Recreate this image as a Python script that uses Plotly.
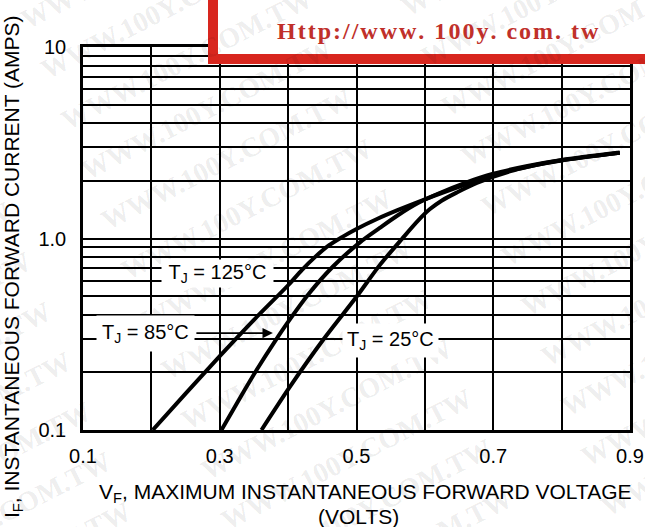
import math
import plotly.graph_objects as go

# ---- data ----
v_125 = [0.202, 0.250, 0.300, 0.350, 0.400, 0.420, 0.440, 0.460, 0.480, 0.500, 0.530, 0.560, 0.600, 0.660, 0.700, 0.750, 0.800, 0.885]
i_125 = [0.100, 0.155, 0.243, 0.376, 0.570, 0.684, 0.804, 0.923, 1.023, 1.122, 1.265, 1.406, 1.603, 1.920, 2.150, 2.370, 2.560, 2.800]

v_85 = [0.3025, 0.330, 0.355, 0.380, 0.400, 0.430, 0.466, 0.505, 0.534, 0.560, 0.590, 0.620, 0.660, 0.700, 0.750, 0.800, 0.885]
i_85 = [0.100, 0.148, 0.209, 0.288, 0.367, 0.513, 0.716, 0.955, 1.135, 1.318, 1.531, 1.718, 1.960, 2.180, 2.390, 2.570, 2.810]

v_25 = [0.361, 0.4025, 0.451, 0.500, 0.534, 0.567, 0.590, 0.607, 0.625, 0.647, 0.676, 0.730, 0.800, 0.885]
i_25 = [0.100, 0.168, 0.295, 0.496, 0.726, 1.000, 1.240, 1.420, 1.580, 1.740, 1.950, 2.270, 2.550, 2.800]

x_grid = [0.1, 0.2, 0.3, 0.4, 0.5, 0.6, 0.7, 0.8, 0.9]
x_labels = ["0.1", "", "0.3", "", "0.5", "", "0.7", "", "0.9"]
y_grid = [0.1, 0.2, 0.3, 0.4, 0.5, 0.6, 0.7, 0.8, 0.9, 1, 2, 3, 4, 5, 6, 7, 8, 9, 10]
y_labels = ["0.1", "", "", "", "", "", "", "", "", "1.0", "", "", "", "", "", "", "", "", "10"]

curve_labels = ["T<sub>J</sub> = 125°C", "T<sub>J</sub> = 85°C", "T<sub>J</sub> = 25°C"]
x_title = "V<sub>F</sub>, MAXIMUM INSTANTANEOUS FORWARD VOLTAGE"
x_title2 = "(VOLTS)"
y_title = "I<sub>F</sub>, INSTANTANEOUS FORWARD CURRENT (AMPS)"
banner_text = "Http://www. 100y. com. tw"
watermark_text = "WWW.100Y.COM.TW"

# ---- layout geometry (pixels) ----
W, H = 645, 527
L, R, T, B = 83, 15, 47, 97
PW, PH = W - L - R, H - T - B


def px(x):
    return (x - L) / PW


def py(y):
    return (H - B - y) / PH


FONT = "Liberation Sans, Arial, Helvetica, sans-serif"
FS = 20

fig = go.Figure()
for v, i in [(v_125, i_125), (v_85, i_85), (v_25, i_25)]:
    fig.add_trace(go.Scatter(x=v, y=i, mode="lines",
                             line=dict(color="black", width=4, shape="spline", smoothing=0.8),
                             hoverinfo="skip", showlegend=False))

annotations = []

# watermark tiling
ang = math.radians(27)
ux, uy = math.cos(ang), -math.sin(ang)
ox, oy = 186, 59
for i in range(-4, 5):
    for j in range(-14, 16):
        cx = ox + i * 360 * ux + j * 20
        cy = oy + i * 360 * uy + j * 50
        if -150 <= cx <= 795 and -70 <= cy <= 600:
            annotations.append(dict(xref="paper", yref="paper", x=px(cx), y=py(cy),
                                    text="<b>" + watermark_text + "</b>", showarrow=False, textangle=-27,
                                    font=dict(family="Liberation Serif, serif", size=28,
                                              color="rgba(0,0,0,0.085)"),
                                    xanchor="center", yanchor="middle"))

# curve labels
annotations.append(dict(x=0.296, y=-0.181, text="&nbsp;" + curve_labels[0] + "&nbsp;",
                        showarrow=False, bgcolor="white", borderpad=1,
                        font=dict(family=FONT, size=FS, color="black")))
annotations.append(dict(x=0.192, y=-0.494, text=curve_labels[1], showarrow=False,
                        bgcolor="white", borderpad=5,
                        font=dict(family=FONT, size=FS, color="black")))
annotations.append(dict(x=0.3777, y=-0.494, ax=-78, ay=0, text="", showarrow=True,
                        arrowhead=2, arrowsize=1.3, arrowwidth=1.6, arrowcolor="black"))
annotations.append(dict(x=0.5504, y=-0.5305, text=curve_labels[2], showarrow=False,
                        bgcolor="white", borderpad=4,
                        font=dict(family=FONT, size=FS, color="black")))

# axis titles
annotations.append(dict(xref="paper", yref="paper", x=px(365), y=py(493),
                        text=x_title, showarrow=False,
                        font=dict(family=FONT, size=21, color="black"),
                        xanchor="center", yanchor="middle"))
annotations.append(dict(xref="paper", yref="paper", x=px(358), y=py(516),
                        text=x_title2, showarrow=False,
                        font=dict(family=FONT, size=21, color="black"),
                        xanchor="center", yanchor="middle"))
annotations.append(dict(xref="paper", yref="paper", x=px(13), y=py(267),
                        text=y_title, showarrow=False, textangle=-90,
                        font=dict(family=FONT, size=21, color="black"),
                        xanchor="center", yanchor="middle"))

# banner text
spaced = "&#8202;".join(banner_text)
annotations.append(dict(xref="paper", yref="paper", x=px(438), y=py(31),
                        text="<b>" + spaced + "</b>", showarrow=False,
                        font=dict(family="Liberation Serif, serif", size=24, color="#c0302a"),
                        xanchor="center", yanchor="middle"))

shapes = [dict(type="rect", xref="paper", yref="paper",
               x0=px(213), x1=px(660), y0=py(59), y1=py(-20),
               line=dict(color="#d8261e", width=10), fillcolor="white", layer="above")]

fig.update_layout(
    width=W, height=H,
    margin=dict(l=L, r=R, t=T, b=B, autoexpand=False),
    paper_bgcolor="white", plot_bgcolor="white",
    showlegend=False,
    font=dict(family=FONT, size=FS, color="black"),
    xaxis=dict(range=[0.1, 0.9], tickvals=x_grid, ticktext=x_labels,
               showgrid=True, gridcolor="black", gridwidth=1.5, zeroline=False,
               showline=True, linecolor="black", linewidth=2.5, mirror=True,
               ticks="", ticklabelstandoff=6, tickfont=dict(size=FS), automargin=False),
    yaxis=dict(type="log", range=[-1, 1], tickvals=y_grid, ticktext=y_labels,
               showgrid=True, gridcolor="black", gridwidth=1.5, zeroline=False,
               showline=True, linecolor="black", linewidth=2.5, mirror=True,
               ticks="", ticklabelstandoff=10, tickfont=dict(size=FS), automargin=False),
    annotations=annotations,
    shapes=shapes,
)

fig.write_html("out.html", config={"displayModeBar": False},
               post_script="document.body.style.margin='0';document.body.style.padding='0';")
